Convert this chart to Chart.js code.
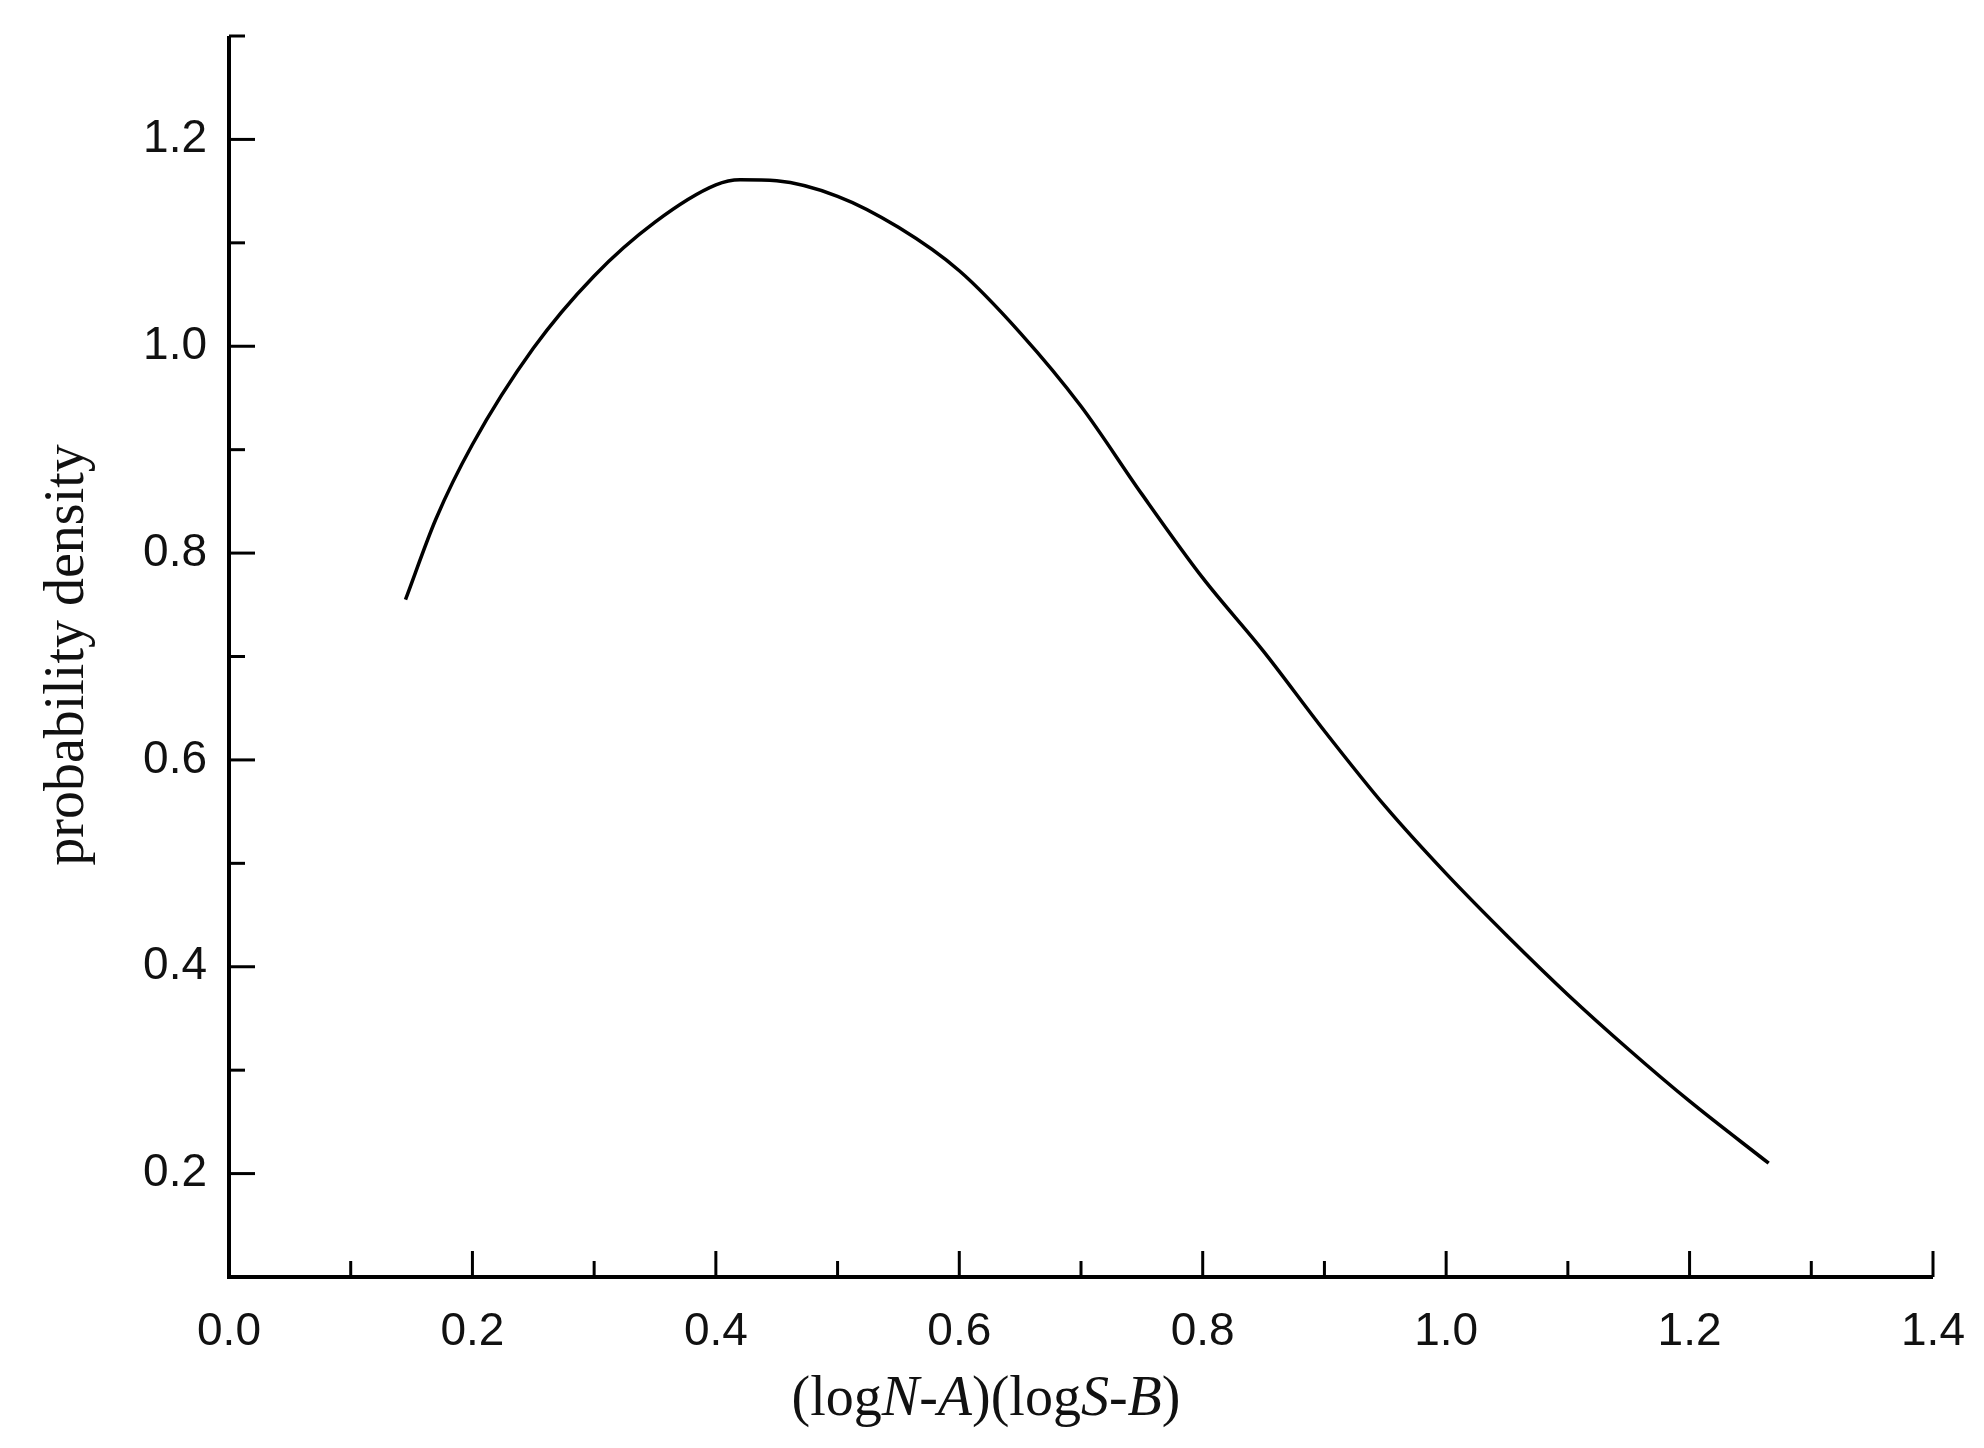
<!DOCTYPE html>
<html><head><meta charset="utf-8">
<script src="https://cdn.jsdelivr.net/npm/chart.js@4"></script>
<style>html,body{margin:0;padding:0;background:#fff}#w{width:1984px;height:1448px}</style>
</head><body><div id="w"><canvas id="c"></canvas></div>
<script>
const xValues = [0.145,0.17,0.2,0.25,0.3,0.35,0.4,0.42,0.45,0.5,0.55,0.6,0.65,0.7,0.75,0.8,0.85,0.9,0.95,1.0,1.05,1.1,1.15,1.2,1.265];
const yValues = [0.755,0.833,0.905,0.998,1.068,1.12,1.156,1.161,1.16,1.145,1.115,1.073,1.013,0.942,0.857,0.776,0.705,0.628,0.555,0.49,0.43,0.373,0.32,0.27,0.21];
const xTickLabels = ['0.0','0.2','0.4','0.6','0.8','1.0','1.2','1.4'];
const yTickLabels = ['0.2','0.4','0.6','0.8','1.0','1.2'];
const xTitleParts = [['(log',false],['N',true],['-',false],['A',true],[')(log',false],['S',true],['-',false],['B',true],[')',false]];
const yTitle = 'probability density';

const drawer = {
  id:'drawer',
  afterDraw(ch){
    const c = ch.ctx, xs = ch.scales.x, ys = ch.scales.y, a = ch.chartArea;
    c.save();
    c.strokeStyle='#000'; c.lineWidth=4; c.lineCap='butt';
    c.beginPath(); c.moveTo(a.left, a.top); c.lineTo(a.left, a.bottom); c.lineTo(a.right, a.bottom); c.stroke();
    c.lineWidth=3;
    for (let i=0;i<=14;i++){ const v=i/10, p=xs.getPixelForValue(v), L = i%2===0?26:16;
      c.beginPath(); c.moveTo(p,a.bottom); c.lineTo(p,a.bottom-L); c.stroke(); }
    for (let i=1;i<=13;i++){ const v=i/10, p=ys.getPixelForValue(v), L = i%2===0?26:16;
      c.beginPath(); c.moveTo(a.left,p); c.lineTo(a.left+L,p); c.stroke(); }
    c.fillStyle='#111'; c.font='46px "Liberation Sans", Arial, sans-serif';
    c.textAlign='center'; c.textBaseline='middle';
    xTickLabels.forEach(t=>c.fillText(t, xs.getPixelForValue(parseFloat(t)), a.bottom+55));
    c.textAlign='right';
    yTickLabels.forEach(t=>c.fillText(t, a.left-22, ys.getPixelForValue(parseFloat(t))));
    c.textAlign='left'; c.textBaseline='middle';
    const f = it => (it?'italic ':'')+'56px "Liberation Serif", "Times New Roman", serif';
    let tw=0; xTitleParts.forEach(([s,it])=>{c.font=f(it); tw+=c.measureText(s).width;});
    let x = 986 - tw/2;
    xTitleParts.forEach(([s,it])=>{c.font=f(it); c.fillText(s,x,1400); x+=c.measureText(s).width;});
    c.translate(68,655); c.rotate(-Math.PI/2); c.textAlign='center'; c.font=f(false);
    c.fillText(yTitle,0,0);
    c.restore();
  }
};
new Chart(document.getElementById('c'),{
  type:'line',
  data:{datasets:[{data:xValues.map((x,i)=>({x,y:yValues[i]})),borderColor:'#000',borderWidth:3.5,pointRadius:0,cubicInterpolationMode:'monotone',fill:false}]},
  options:{responsive:true,maintainAspectRatio:false,animation:false,devicePixelRatio:1,
    layout:{padding:{top:36,right:51,left:0,bottom:0}},
    plugins:{legend:{display:false},tooltip:{enabled:false}},
    scales:{
      x:{type:'linear',min:0,max:1.4,grid:{display:false},border:{display:false},ticks:{display:false},afterFit(s){s.height=171;}},
      y:{type:'linear',min:0.1,max:1.3,grid:{display:false},border:{display:false},ticks:{display:false},afterFit(s){s.width=229;}}
    }},
  plugins:[drawer]
});
</script></body></html>
